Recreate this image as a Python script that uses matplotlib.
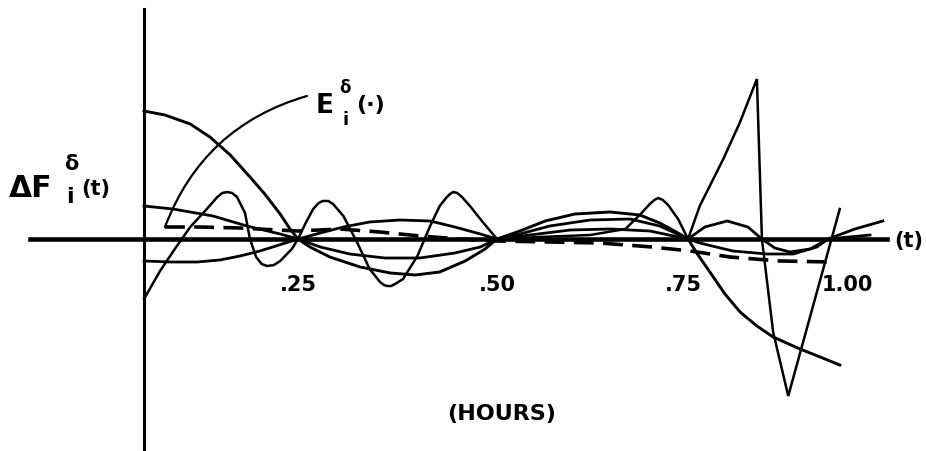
import numpy as np
import matplotlib
matplotlib.use("Agg")
import matplotlib.pyplot as plt
from matplotlib.transforms import Affine2D, ScaledTranslation

# ---------------- data (t in hours, value of Delta F) ----------------
a_t = [0.0, 0.034, 0.075, 0.107, 0.140, 0.172, 0.196, 0.221, 0.237, 0.25,
       0.265, 0.290, 0.328, 0.366, 0.397, 0.428, 0.460, 0.485, 0.5,
       0.530, 0.563, 0.602, 0.648, 0.687, 0.713, 0.737, 0.75,
       0.768, 0.789, 0.816, 0.843, 0.873, 0.902, 0.950, 0.986, 1.021]
a_y = [1.28, 1.24, 1.15, 1.02, 0.84, 0.62, 0.45, 0.25, 0.10, 0.0,
       -0.08, -0.18, -0.28, -0.34, -0.36, -0.33, -0.22, -0.10, 0.0,
       0.08, 0.18, 0.25, 0.27, 0.24, 0.16, 0.06, 0.0,
       -0.16, -0.33, -0.55, -0.73, -0.87, -0.98, -1.10, -1.18, -1.26]

b_t = [0.0, 0.047, 0.112, 0.167, 0.221, 0.25,
       0.278, 0.307, 0.340, 0.378, 0.416, 0.447, 0.479, 0.5,
       0.530, 0.569, 0.622, 0.674, 0.713, 0.75,
       0.780, 0.820, 0.857, 0.882, 0.905, 0.932, 0.968, 1.0, 1.048, 1.098]
b_y = [0.33, 0.30, 0.23, 0.13, 0.05, 0.0,
       0.06, 0.12, 0.17, 0.19, 0.18, 0.12, 0.05, 0.0,
       0.05, 0.13, 0.19, 0.20, 0.13, 0.0,
       0.12, 0.18, 0.12, 0.0, -0.09, -0.13, -0.10, 0.0, 0.10, 0.18]

c_t = [0.0, 0.044, 0.086, 0.123, 0.156, 0.188, 0.209, 0.25,
       0.278, 0.315, 0.359, 0.403, 0.447, 0.479, 0.5,
       0.543, 0.596, 0.648, 0.700, 0.75,
       0.771, 0.830, 0.891, 0.938, 0.980, 1.0, 1.075]
c_y = [-0.22, -0.23, -0.23, -0.21, -0.17, -0.12, -0.08, 0.0,
       -0.08, -0.15, -0.19, -0.19, -0.14, -0.08, 0.0,
       0.04, 0.09, 0.10, 0.08, 0.0,
       -0.04, -0.12, -0.15, -0.15, -0.08, 0.0, 0.04]

o_t = [0.0, 0.026, 0.050, 0.075, 0.102, 0.119, 0.127, 0.135, 0.143, 0.151,
       0.164, 0.172, 0.182, 0.191, 0.200, 0.211, 0.221, 0.240, 0.25,
       0.259, 0.269, 0.276, 0.281, 0.288, 0.294, 0.307, 0.324, 0.340, 0.353,
       0.358, 0.362, 0.367, 0.372, 0.382, 0.400, 0.416, 0.428, 0.437, 0.441,
       0.445, 0.450, 0.456, 0.466, 0.482, 0.5,
       0.556, 0.622, 0.668, 0.688, 0.700, 0.706, 0.711, 0.717, 0.724, 0.737,
       0.75, 0.771, 0.813, 0.843, 0.873, 0.882, 0.902, 0.929, 1.021]
o_y = [-0.60, -0.32, -0.10, 0.12, 0.30, 0.42, 0.46, 0.47, 0.46, 0.42,
       0.26, 0.0, -0.18, -0.25, -0.27, -0.26, -0.22, -0.10, 0.0,
       0.15, 0.30, 0.36, 0.38, 0.38, 0.35, 0.23, -0.03, -0.30, -0.43,
       -0.46, -0.47, -0.47, -0.45, -0.40, -0.17, 0.13, 0.33, 0.42, 0.45,
       0.47, 0.46, 0.42, 0.33, 0.17, 0.0,
       0.02, 0.04, 0.10, 0.25, 0.35, 0.39, 0.41, 0.39, 0.34, 0.20,
       0.0, 0.33, 0.80, 1.17, 1.60, 0.0, -0.93, -1.57, 0.30]

e_t = [0.034, 0.091, 0.156, 0.216, 0.25, 0.303, 0.353, 0.403, 0.454, 0.5,
       0.569, 0.635, 0.703, 0.754, 0.825, 0.914, 1.007]
e_y = [0.12, 0.12, 0.11, 0.09, 0.08, 0.10, 0.07, 0.03, 0.0, -0.02,
       -0.03, -0.04, -0.08, -0.12, -0.18, -0.22, -0.23]

tick_values = [0.25, 0.50, 0.75, 1.00]
tick_labels = [".25", ".50", ".75", "1.00"]

# ---------------- layout ----------------
W, H = 926, 452
fig = plt.figure(figsize=(W / 100, H / 100), dpi=100)
ax = fig.add_axes([0, 0, 1, 1])
ax.set_facecolor("white")
fig.patch.set_facecolor("white")

# hand-drawn, unevenly spaced hour marks -> piecewise-linear scale
T_KN = np.array([-1.0, 0.0, 0.25, 0.50, 0.75, 1.00, 2.0])
P_KN = np.array([-616.0, 0.0, 154.0, 353.0, 544.0, 684.0, 1244.0])


def fwd(t):
    return np.interp(t, T_KN, P_KN)


def inv(p):
    return np.interp(p, P_KN, T_KN)


ax.set_xscale("function", functions=(fwd, inv))
ax.set_xlim(-0.2338, 1.175)
ax.set_ylim(-2.12, 2.40)

# axes as crossing lines
for s in ["top", "right"]:
    ax.spines[s].set_visible(False)
ax.spines["bottom"].set_position(("data", 0))
ax.spines["bottom"].set_bounds(-0.185, 1.105)
ax.spines["bottom"].set_linewidth(3.3)
ax.spines["left"].set_position(("data", 0))
ax.spines["left"].set_bounds(-2.2, 2.30)
ax.spines["left"].set_linewidth(2.2)
ax.set_yticks([])

ax.set_xticks(tick_values)
ax.set_xticklabels(tick_labels)
ax.tick_params(axis="x", length=0, pad=25, labelsize=15)
for lab in ax.get_xticklabels():
    lab.set_fontweight("bold")
    lab.set_family("DejaVu Sans")
lab_last = ax.get_xticklabels()[-1]
lab_last.set_ha("left")
lab_last.set_transform(lab_last.get_transform() +
                       ScaledTranslation(-6 / 100, 0, fig.dpi_scale_trans))
lab75 = ax.get_xticklabels()[2]
lab75.set_transform(lab75.get_transform() +
                    ScaledTranslation(-5 / 100, 0, fig.dpi_scale_trans))

# curves
ax.plot(a_t, a_y, color="black", lw=2.1, solid_joinstyle="round")
ax.plot(b_t, b_y, color="black", lw=2.0, solid_joinstyle="round")
ax.plot(c_t, c_y, color="black", lw=2.0, solid_joinstyle="round")
ax.plot(o_t, o_y, color="black", lw=1.8, solid_joinstyle="miter")
ax.plot(e_t, e_y, color="black", lw=2.6, linestyle=(0, (5.5, 2.6)))

# pixel transform (x from left, y from top)
pix = Affine2D().scale(1, -1).translate(0, H)

# leader line to E curve
ax.annotate("", xy=(e_t[0], e_y[0]), xycoords="data",
            xytext=(307, 97), textcoords=pix,
            arrowprops=dict(arrowstyle="-", lw=1.6, color="black",
                            connectionstyle="arc3,rad=0.25",
                            shrinkA=0, shrinkB=0))

fam = ["DejaVu Sans"]
kw = dict(transform=pix, color="black", fontweight="bold", family=fam)

# E label
fig.text(316, 113, "E", fontsize=19, ha="left", va="baseline", **kw)
fig.text(339, 93, "δ", fontsize=12, ha="left", va="baseline", **kw)
fig.text(343, 125, "i", fontsize=13, ha="left", va="baseline", **kw)
fig.text(356, 111, "(·)", fontsize=16, ha="left", va="baseline", **kw)

# Delta F label
fig.text(9, 197, "ΔF", fontsize=21.5, ha="left", va="baseline", **kw)
fig.text(64, 170, "δ", fontsize=15, ha="left", va="baseline", **kw)
fig.text(66, 203, "i", fontsize=16, ha="left", va="baseline", **kw)
fig.text(81, 195, "(t)", fontsize=15, ha="left", va="baseline", **kw)

# axis names
fig.text(909, 241, "(t)", fontsize=15, ha="center", va="center", **kw)
fig.text(502, 420, "(HOURS)", fontsize=16, ha="center", va="baseline", **kw)

fig.savefig("out.png", dpi=100, facecolor="white")
